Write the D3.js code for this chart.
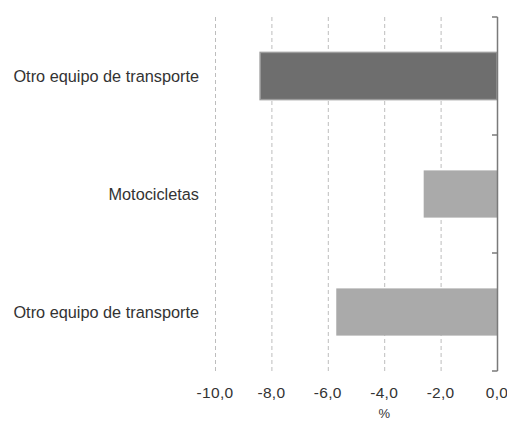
<!DOCTYPE html>
<html>
<head>
<script src="https://d3js.org/d3.v7.min.js"></script>
<style>
  body { margin: 0; background: #fff; font-family: "Liberation Sans", Arial, sans-serif; }
</style>
</head>
<body>
<svg id="chart" width="507" height="421"></svg>
<script>
  // data
  var categories = ["Otro equipo de transporte", "Motocicletas", "Otro equipo de transporte"];
  var values = [-8.4, -2.6, -5.7];
  var barColors = ["#6e6e6e", "#aaaaaa", "#aaaaaa"];
  var xTicks = [-10, -8, -6, -4, -2, 0];

  var margin = { top: 17, right: 10, bottom: 50, left: 215 };
  var svg = d3.select("#chart");
  var plotW = 497 - margin.left, plotH = 371 - margin.top;

  var x = d3.scaleLinear().domain([-10, 0]).range([0, plotW]);
  var y = d3.scaleBand().domain(d3.range(categories.length)).range([0, plotH])
      .paddingInner(0.6).paddingOuter(0.3);

  var g = svg.append("g").attr("transform", "translate(" + margin.left + "," + margin.top + ")");

  // dashed gridlines
  g.selectAll(".grid").data(xTicks.filter(function (d) { return d !== 0; })).enter().append("line")
    .attr("x1", function (d) { return x(d) + 0.5; })
    .attr("x2", function (d) { return x(d) + 0.5; })
    .attr("y1", 0).attr("y2", plotH)
    .attr("stroke", "#bdbdbd").attr("stroke-width", 1)
    .attr("stroke-dasharray", "4,3");

  // bars
  g.selectAll(".bar").data(values).enter().append("rect")
    .attr("x", function (d) { return x(d); })
    .attr("y", function (d, i) { return y(i); })
    .attr("width", function (d) { return x(0) - x(d); })
    .attr("height", y.bandwidth())
    .attr("fill", function (d, i) { return barColors[i]; })
    .attr("stroke", function (d, i) { return i === 0 ? "#9c9c9c" : "none"; })
    .attr("stroke-width", 1.5);

  // right-side axis with ticks at band boundaries
  var step = y.step();
  var bounds = d3.range(categories.length + 1).map(function (i) { return i * step; });
  g.append("line")
    .attr("x1", x(0) + 0.5).attr("x2", x(0) + 0.5)
    .attr("y1", 0).attr("y2", plotH)
    .attr("stroke", "#7a7a7a").attr("stroke-width", 1.5);
  g.selectAll(".ytick").data(bounds).enter().append("line")
    .attr("x1", x(0) - 5).attr("x2", x(0) + 0.5)
    .attr("y1", function (d) { return d; })
    .attr("y2", function (d) { return d; })
    .attr("stroke", "#7a7a7a").attr("stroke-width", 1.5);

  // category labels
  g.selectAll(".cat").data(categories).enter().append("text")
    .attr("x", -16)
    .attr("y", function (d, i) { return y(i) + y.bandwidth() / 2; })
    .attr("dy", "0.35em")
    .attr("text-anchor", "end")
    .attr("font-size", 16.3)
    .attr("fill", "#333")
    .text(function (d) { return d; });

  // x tick labels
  var fmt = function (d) { return d3.format(".1f")(d).replace(".", ",").replace("−", "-"); };
  g.selectAll(".xl").data(xTicks).enter().append("text")
    .attr("x", function (d) { return x(d); })
    .attr("y", plotH + 27)
    .attr("text-anchor", "middle")
    .attr("font-size", 15.5)
    .attr("letter-spacing", 0.3)
    .attr("fill", "#333")
    .text(fmt);

  g.append("text")
    .attr("x", x(-4))
    .attr("y", plotH + 47)
    .attr("text-anchor", "middle")
    .attr("font-size", 13)
    .attr("fill", "#333")
    .text("%");
</script>
</body>
</html>
